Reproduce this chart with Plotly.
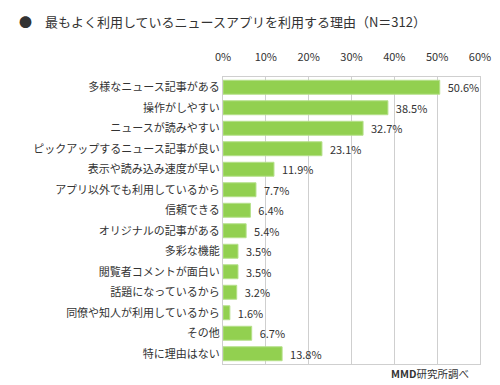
import plotly.graph_objects as go

categories = ["多様なニュース記事がある", "操作がしやすい", "ニュースが読みやすい", "ピックアップするニュース記事が良い",
              "表示や読み込み速度が早い", "アプリ以外でも利用しているから", "信頼できる", "オリジナルの記事がある",
              "多彩な機能", "閲覧者コメントが面白い", "話題になっているから", "同僚や知人が利用しているから",
              "その他", "特に理由はない"]
values = [50.6, 38.5, 32.7, 23.1, 11.9, 7.7, 6.4, 5.4, 3.5, 3.5, 3.2, 1.6, 6.7, 13.8]
tick_vals = [0, 10, 20, 30, 40, 50, 60]
tick_text = ["0%", "10%", "20%", "30%", "40%", "50%", "60%"]

FONT = "Noto Sans CJK JP, Meiryo, sans-serif"

# page body has an 8px margin: figure is sized/offset to compensate
W, H = 492, 377
L, R, T, B = 215, 20, 69, 21
PW, PH = W - L - R, H - T - B

fig = go.Figure(go.Bar(
    y=categories, x=values, orientation="h",
    marker=dict(color="#92D050", line=dict(color="#B5E08A", width=1)),
    text=[f"\u00a0\u00a0{v:.1f}%" for v in values], textposition="outside",
    textfont=dict(size=11, color="#333333", family=FONT),
    constraintext="none",
    cliponaxis=False,
))
fig.update_layout(
    width=W, height=H,
    margin=dict(l=L, r=R, t=T, b=B, autoexpand=False),
    paper_bgcolor="white", plot_bgcolor="white",
    bargap=0.32, showlegend=False,
    font=dict(family=FONT, size=11, color="#333333"),
    xaxis=dict(range=[0, 60], tickvals=tick_vals, ticktext=tick_text, side="top",
               showgrid=True, gridcolor="#CFCFCF", gridwidth=1, automargin=False,
               showline=True, linecolor="#CFCFCF", mirror=True, zeroline=False,
               ticks="", ticklabelstandoff=11, tickfont=dict(size=11, color="#333333")),
    yaxis=dict(autorange="reversed", showline=True, linecolor="#CFCFCF", mirror=True,
               ticks="", ticklen=0, tickfont=dict(size=11, color="#333333"), automargin=False),
)
fig.add_annotation(xref="paper", yref="paper", x=(9 - L) / PW, y=1 + (T - 13) / PH, xanchor="left", yanchor="middle",
                   text="●　最もよく利用しているニュースアプリを利用する理由（N＝312）", showarrow=False,
                   font=dict(size=13, color="#333333", family=FONT))
fig.add_annotation(xref="paper", yref="paper", x=(463 - L) / PW, y=-9 / PH, xanchor="right", yanchor="middle",
                   text="<b>MMD</b>研究所調べ", showarrow=False,
                   font=dict(size=10.5, color="#333333", family=FONT))
fig.write_html("out.html")
